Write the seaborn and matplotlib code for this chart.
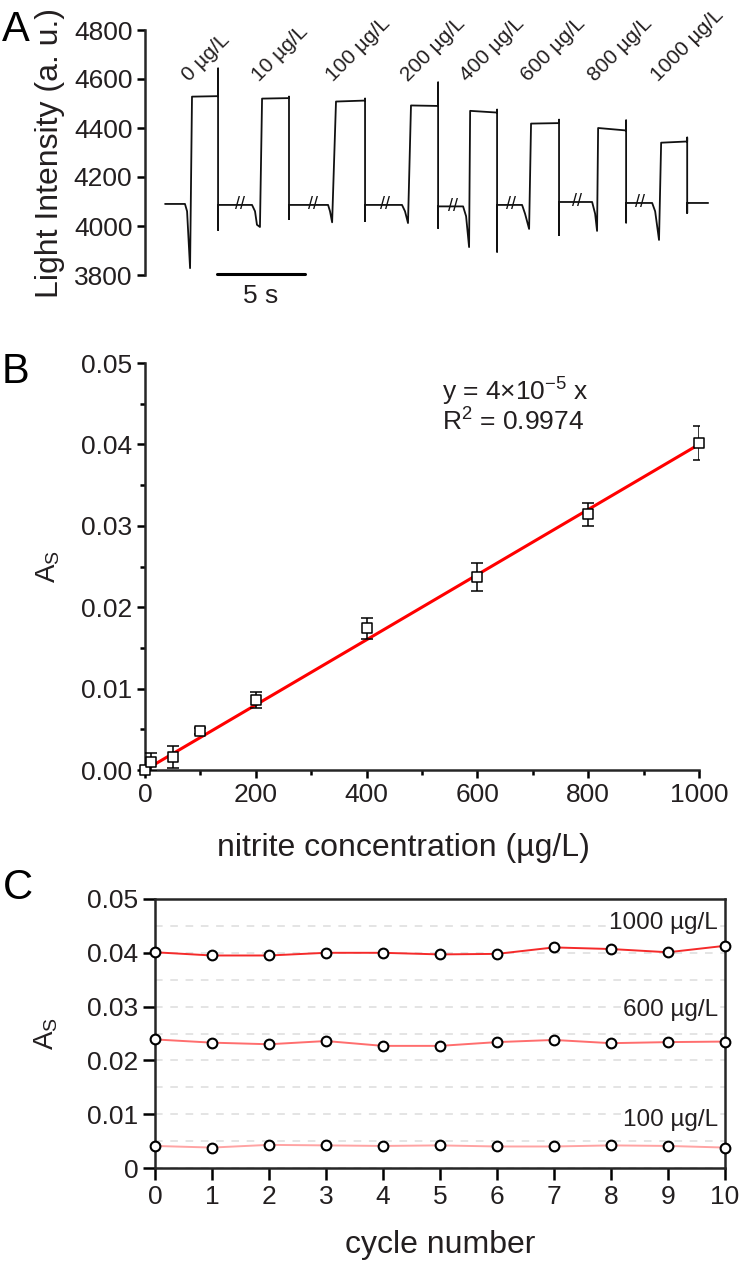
import numpy as np
import pandas as pd
import matplotlib
matplotlib.use('Agg')
import matplotlib.pyplot as plt
import seaborn as sns
from matplotlib.ticker import MultipleLocator, FuncFormatter

# ============================================================
# DATA
# ============================================================
# A - light intensity trace (key points, time in s)
trace_t = [1.14, 2.27, 2.39, 2.56, 2.67, 4.15, 4.15, 4.15, 4.15,
           6.08, 6.25, 6.36, 6.53, 6.65, 8.18, 8.18, 8.18, 8.18,
           10.40, 10.51, 10.63, 10.85, 12.50, 12.50, 12.50, 12.50,
           14.60, 14.77, 14.94, 15.11, 16.65, 16.65, 16.65, 16.65,
           18.07, 18.24, 18.41, 18.47, 20.00, 20.00, 20.00, 20.00,
           21.42, 21.59, 21.82, 21.93, 23.52, 23.52, 23.52, 23.52,
           25.40, 25.57, 25.68, 25.74, 27.33, 27.33, 27.33, 27.33,
           28.81, 28.98, 29.20, 29.32, 30.80, 30.80, 30.80, 30.80, 31.99]
trace_I = [4090, 4090, 4060, 3828, 4528, 4530, 4643, 3984, 4086,
           4086, 4060, 4005, 3996, 4520, 4522, 4528, 4028, 4086,
           4086, 4060, 4015, 4508, 4512, 4520, 4020, 4086,
           4086, 4060, 4012, 4492, 4490, 4586, 3992, 4080,
           4080, 4040, 3914, 4470, 4463, 4475, 3895, 4086,
           4086, 4050, 3988, 4418, 4420, 4434, 3963, 4098,
           4098, 4050, 3980, 4400, 4390, 4431, 4014, 4094,
           4094, 4060, 3943, 4340, 4345, 4361, 4053, 4094, 4094]
break_t = [5.40, 9.55, 13.64, 17.50, 20.80, 24.55, 28.13]
break_I = [4086, 4086, 4086, 4080, 4086, 4098, 4094]
pulse_labels = ['0 µg/L', '10 µg/L', '100 µg/L', '200 µg/L',
                '400 µg/L', '600 µg/L', '800 µg/L', '1000 µg/L']
pulse_start_t = [2.67, 6.65, 10.85, 15.11, 18.47, 21.93, 25.74, 29.32]

# B - calibration
conc = [0, 10, 50, 100, 200, 400, 600, 800, 1000]
as_mean = [0.0, 0.0010, 0.0016, 0.0048, 0.0086, 0.0174, 0.0237, 0.0314, 0.0402]
as_err = [0.0, 0.0011, 0.0014, 0.0004, 0.0010, 0.0013, 0.0017, 0.0014, 0.0021]
slope = 4e-5
r2 = 0.9974

# C - repeatability
cycles = list(range(11))
as_1000 = [0.0401, 0.0395, 0.0395, 0.0400, 0.0400, 0.0397, 0.0398, 0.0410, 0.0407, 0.0401, 0.0413]
as_600 = [0.0239, 0.0233, 0.0230, 0.0236, 0.0227, 0.0227, 0.0234, 0.0238, 0.0232, 0.0234, 0.0235]
as_100 = [0.0041, 0.0038, 0.0043, 0.0042, 0.0041, 0.0042, 0.0040, 0.0040, 0.0042, 0.0041, 0.0038]

# ============================================================
# STYLE
# ============================================================
sns.set_theme(style='ticks')
plt.rcParams['font.family'] = ['Liberation Sans', 'DejaVu Sans']
plt.rcParams['mathtext.fontset'] = 'custom'
plt.rcParams['mathtext.rm'] = 'Liberation Sans'
plt.rcParams['mathtext.it'] = 'Liberation Sans:italic'
txt = '#231f20'
plt.rcParams['text.color'] = txt
plt.rcParams['axes.labelcolor'] = txt
plt.rcParams['xtick.color'] = 'black'
plt.rcParams['ytick.color'] = 'black'
plt.rcParams['xtick.labelcolor'] = txt
plt.rcParams['ytick.labelcolor'] = txt

W, H = 750, 1261
fig = plt.figure(figsize=(7.5, 12.61), dpi=100)

def px_axes(left, top, right, bottom):
    return fig.add_axes([left / W, 1 - bottom / H, (right - left) / W, (bottom - top) / H])

TICK_FS = 19
LABEL_FS = 23

# ============================================================
# A - trace
# ============================================================
axA = px_axes(145, 30, 740, 275)
sns.lineplot(x=trace_t, y=trace_I, sort=False, estimator=None,
             color='#111111', lw=1.3, ax=axA)
for t, i in zip(break_t, break_I):
    axA.text(t, i, '//', ha='center', va='center', fontsize=13, color='#111111')
for t, lab in zip(pulse_start_t, pulse_labels):
    axA.text(t, 4575, lab, rotation=45, rotation_mode='anchor', ha='left',
             va='bottom', fontsize=15, clip_on=False)
# 5 s scale bar
bar_t0 = 4.09
axA.plot([bar_t0, bar_t0 + 5], [3805, 3805], color='black', lw=2.2, clip_on=False)
axA.text(bar_t0 + 2.5, 3765, '5 s', ha='center', va='top', fontsize=19)

axA.set_xlim(0, 33.8)
axA.set_ylim(3800, 4800)
axA.set_yticks(np.arange(3800, 4801, 200))
for s in ['top', 'right', 'bottom']:
    axA.spines[s].set_visible(False)
axA.spines['left'].set_linewidth(1.8)
axA.set_xticks([])
axA.tick_params(axis='y', direction='out', length=6, width=1.8, labelsize=TICK_FS, pad=3)
axA.set_ylabel('Light Intensity (a. u.)', fontsize=LABEL_FS)
axA.yaxis.set_label_coords(-0.135, 0.5)

# ============================================================
# B - calibration
# ============================================================
axB = px_axes(145, 363, 699, 770)
fit_x = np.array([0, 1000])
sns.lineplot(x=fit_x, y=slope * fit_x, color='#ff0000', lw=2.2, ax=axB, zorder=2)
axB.errorbar(conc, as_mean, yerr=as_err, fmt='none', ecolor='black',
             elinewidth=1.1, capsize=4, capthick=1.1, zorder=3)
sns.scatterplot(x=conc, y=as_mean, marker='s', s=45, color='white',
                edgecolor='black', linewidth=1.1, ax=axB, zorder=4, clip_on=False)
axB.text(537, 0.0464, 'y = 4×10$^{\\mathregular{-5}}$ x', fontsize=19,
         ha='left', va='center')
axB.text(537, 0.0428, 'R$^{\\mathregular{2}}$ = %.4f' % r2, fontsize=19,
         ha='left', va='center')

axB.set_xlim(0, 1000)
axB.set_ylim(0, 0.05)
axB.xaxis.set_major_locator(MultipleLocator(200))
axB.xaxis.set_minor_locator(MultipleLocator(100))
axB.yaxis.set_major_locator(MultipleLocator(0.01))
axB.yaxis.set_minor_locator(MultipleLocator(0.005))
axB.yaxis.set_major_formatter(FuncFormatter(lambda v, p: '%.2f' % v))
for s in ['top', 'right']:
    axB.spines[s].set_visible(False)
for s in ['left', 'bottom']:
    axB.spines[s].set_linewidth(1.8)
axB.tick_params(which='major', direction='out', length=6, width=1.8, labelsize=TICK_FS)
axB.tick_params(which='minor', direction='out', length=3.5, width=1.8)
axB.set_xlabel('nitrite concentration (µg/L)', fontsize=LABEL_FS)
axB.set_ylabel('A$_{\\mathregular{S}}$', fontsize=20)
axB.xaxis.set_label_coords(0.467, -0.155)
axB.yaxis.set_label_coords(-0.15, 0.5)

# ============================================================
# C - repeatability
# ============================================================
axC = px_axes(155, 899, 725, 1168)
dfC = pd.DataFrame({
    'cycle': cycles * 3,
    'As': as_1000 + as_600 + as_100,
    'conc': ['1000'] * 11 + ['600'] * 11 + ['100'] * 11,
})
palC = {'1000': '#f52a2a', '600': '#ff6e6e', '100': '#ffa3a3'}
sns.lineplot(data=dfC, x='cycle', y='As', hue='conc', palette=palC, lw=1.4,
             marker='o', markersize=7, markerfacecolor='white',
             markeredgecolor='black', markeredgewidth=1.5, legend=False,
             ax=axC, zorder=5, clip_on=False)

for lab, yv in [('1000 µg/L', 0.0455), ('600 µg/L', 0.0294), ('100 µg/L', 0.0089)]:
    axC.text(9.88, yv, lab, ha='right', va='center', fontsize=17.5,
             bbox=dict(facecolor='white', edgecolor='none', pad=1), zorder=3)

axC.set_xlim(0, 10)
axC.set_ylim(0, 0.05)
axC.xaxis.set_major_locator(MultipleLocator(1))
axC.yaxis.set_major_locator(MultipleLocator(0.01))
axC.yaxis.set_minor_locator(MultipleLocator(0.005))
axC.yaxis.set_major_formatter(FuncFormatter(lambda v, p: '0' if abs(v) < 1e-9 else '%.2f' % v))
axC.grid(which='both', axis='y', color='#dddddd', lw=1.1, ls=(0, (5, 5)))
axC.set_axisbelow(True)
for s in axC.spines.values():
    s.set_linewidth(1.8)
axC.tick_params(which='major', direction='out', length=8.5, width=1.8, labelsize=TICK_FS)
axC.tick_params(which='minor', length=0)
axC.tick_params(top=False, right=False)
axC.set_xlabel('cycle number', fontsize=LABEL_FS)
axC.set_ylabel('A$_{\\mathregular{S}}$', fontsize=20)
axC.xaxis.set_label_coords(0.5, -0.23)
axC.yaxis.set_label_coords(-0.167, 0.5)

# panel letters
fig.text(2 / W, 1 - 30 / H, 'A', fontsize=30, ha='left', va='center', color='black')
fig.text(2 / W, 1 - 372 / H, 'B', fontsize=30, ha='left', va='center', color='black')
fig.text(3 / W, 1 - 888 / H, 'C', fontsize=30, ha='left', va='center', color='black')

plt.savefig('out.png', dpi=100)
